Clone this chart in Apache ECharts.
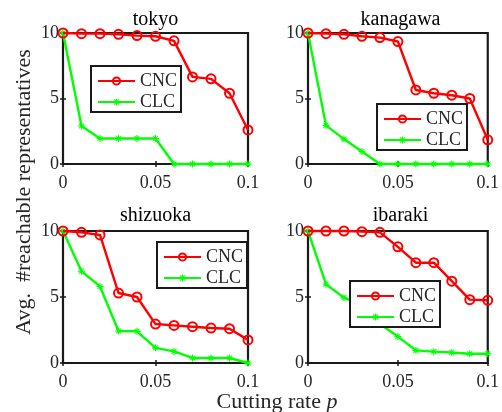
<!DOCTYPE html>
<html>
<head>
<meta charset="utf-8">
<script src="https://cdn.jsdelivr.net/npm/echarts@6/dist/echarts.min.js"></script>
<style>
html,body{margin:0;padding:0;background:#fff;}
#chart{width:502px;height:412px;}
</style>
</head>
<body>
<div id="chart"></div>
<script>
// ---- data ----
var rates = [0, 0.01, 0.02, 0.03, 0.04, 0.05, 0.06, 0.07, 0.08, 0.09, 0.1];
var panelNames = ['tokyo', 'kanagawa', 'shizuoka', 'ibaraki'];
var seriesNames = ['CNC', 'CLC'];
var tokyoCNC    = [10, 9.95, 9.95, 9.9, 9.8, 9.75, 9.4, 6.65, 6.5, 5.4, 2.6];
var tokyoCLC    = [10, 2.9, 1.95, 1.95, 1.95, 1.95, 0, 0, 0, 0, 0];
var kanagawaCNC = [10, 9.95, 9.9, 9.75, 9.65, 9.35, 5.65, 5.4, 5.25, 5.0, 1.85];
var kanagawaCLC = [10, 2.95, 1.9, 0.95, 0, 0, 0, 0, 0, 0, 0];
var shizuokaCNC = [10, 9.9, 9.7, 5.3, 5.0, 2.95, 2.85, 2.75, 2.65, 2.6, 1.75];
var shizuokaCLC = [10, 6.95, 5.8, 2.42, 2.4, 1.15, 0.88, 0.38, 0.38, 0.38, 0];
var ibarakiCNC  = [10, 10, 10, 9.95, 9.9, 8.8, 7.6, 7.6, 6.2, 4.8, 4.75];
var ibarakiCLC  = [10, 5.97, 4.95, 4.4, 2.95, 2.0, 0.96, 0.86, 0.8, 0.7, 0.7];
var xTicks = [0, 0.05, 0.1];
var yTicks = [0, 5, 10];
var xLabel = 'Cutting rate ';
var xLabelVar = 'p';
var yLabel = 'Avg.  #reachable representatives';

var panelData = [
  [tokyoCNC, tokyoCLC],
  [kanagawaCNC, kanagawaCLC],
  [shizuokaCNC, shizuokaCLC],
  [ibarakiCNC, ibarakiCLC]
];

// ---- layout ----
var FONT = '"Liberation Serif", "Times New Roman", serif';
var AX = '#262626';
var grids = [
  {left: 63, top: 33, width: 185, height: 131},
  {left: 308, top: 33, width: 185, height: 131},
  {left: 63, top: 231, width: 185, height: 132},
  {left: 308, top: 231, width: 185, height: 132}
];
var legendPos = [
  {left: 91, top: 66},
  {left: 377, top: 104},
  {left: 157, top: 242},
  {left: 350, top: 281}
];
var titleY = [20, 20, 216, 216];

var chart = echarts.init(document.getElementById('chart'), null, {renderer: 'canvas'});

var xAxes = [], yAxes = [], series = [], legends = [], graphics = [];
var gridOpts = grids.map(function (g) {
  return Object.assign({show: true, borderWidth: 2.2, borderColor: '#1a1a1a', backgroundColor: '#fff', containLabel: false}, g);
});

// filled asterisk (union of four thin bars)
var starPath = 'path://M0,4.2L10,4.2L10,5.8L0,5.8Z' +
  'M4.2,0L5.8,0L5.8,10L4.2,10Z' +
  'M1,2L2,1L9,8L8,9Z' +
  'M8,1L9,2L2,9L1,8Z';

grids.forEach(function (g, i) {
  var tick = {show: true, inside: true, length: 3, lineStyle: {color: '#1a1a1a', width: 1.5}};
  var lbl = {fontSize: 18, fontFamily: FONT, color: AX};
  xAxes.push({gridIndex: i, type: 'value', min: xTicks[0], max: xTicks[2], interval: xTicks[1] - xTicks[0],
    axisLine: {show: false}, axisTick: tick, splitLine: {show: false},
    axisLabel: Object.assign({margin: 10}, lbl)});
  xAxes.push({gridIndex: i, type: 'value', position: 'top', min: xTicks[0], max: xTicks[2], interval: xTicks[1] - xTicks[0],
    axisLine: {show: false}, axisTick: tick, splitLine: {show: false}, axisLabel: {show: false}});
  yAxes.push({gridIndex: i, type: 'value', min: yTicks[0], max: yTicks[2], interval: yTicks[1] - yTicks[0],
    axisLine: {show: false}, axisTick: tick, splitLine: {show: false},
    axisLabel: Object.assign({margin: 4}, lbl)});
  yAxes.push({gridIndex: i, type: 'value', position: 'right', min: yTicks[0], max: yTicks[2], interval: yTicks[1] - yTicks[0],
    axisLine: {show: false}, axisTick: tick, splitLine: {show: false}, axisLabel: {show: false}});

  var cnc = panelData[i][0], clc = panelData[i][1];
  series.push({
    name: seriesNames[0], type: 'line', xAxisIndex: 2 * i, yAxisIndex: 2 * i,
    data: rates.map(function (r, k) { return [r, cnc[k]]; }),
    symbol: 'circle', symbolSize: 9, clip: false, z: 3,
    lineStyle: {color: '#ff0000', width: 2.4},
    itemStyle: {color: 'rgba(255,255,255,0)', borderColor: '#ff0000', borderWidth: 2},
    emphasis: {disabled: true}
  });
  series.push({
    name: seriesNames[1], type: 'line', xAxisIndex: 2 * i, yAxisIndex: 2 * i,
    data: rates.map(function (r, k) { return [r, clc[k]]; }),
    symbol: starPath, symbolSize: 7, clip: false, z: 2,
    lineStyle: {color: '#00ff00', width: 2.4},
    itemStyle: {color: '#00ff00', borderWidth: 0},
    emphasis: {disabled: true}
  });

  legends.push({
    data: seriesNames, orient: 'vertical', left: legendPos[i].left, top: legendPos[i].top,
    padding: [6, 4, 1, 6], itemGap: 3, itemWidth: 37, itemHeight: 9,
    borderColor: '#1a1a1a', borderWidth: 2, backgroundColor: '#fff',
    selectedMode: false,
    textStyle: {fontSize: 18, fontFamily: FONT, color: AX}
  });

  graphics.push({
    type: 'text', x: g.left + g.width / 2, y: titleY[i], z: 10,
    style: {text: panelNames[i], fill: '#000', font: '20px ' + FONT, textAlign: 'center', textVerticalAlign: 'middle'}
  });
});

graphics.push({
  type: 'text', x: 277, y: 402, z: 10,
  style: {
    text: '{a|' + xLabel + '}{b|' + xLabelVar + '}',
    textAlign: 'center', textVerticalAlign: 'middle',
    rich: {
      a: {fontSize: 22, fontFamily: FONT, fill: AX, color: AX},
      b: {fontSize: 22, fontFamily: FONT, fontStyle: 'italic', fill: AX, color: AX}
    }
  }
});
graphics.push({
  type: 'text', x: 24, y: 192, rotation: Math.PI / 2, z: 10,
  style: {text: yLabel, fill: AX, font: '22px ' + FONT, textAlign: 'center', textVerticalAlign: 'middle'}
});

chart.setOption({
  animation: false,
  backgroundColor: '#fff',
  grid: gridOpts,
  xAxis: xAxes,
  yAxis: yAxes,
  legend: legends,
  series: series,
  graphic: graphics
});
</script>
</body>
</html>
